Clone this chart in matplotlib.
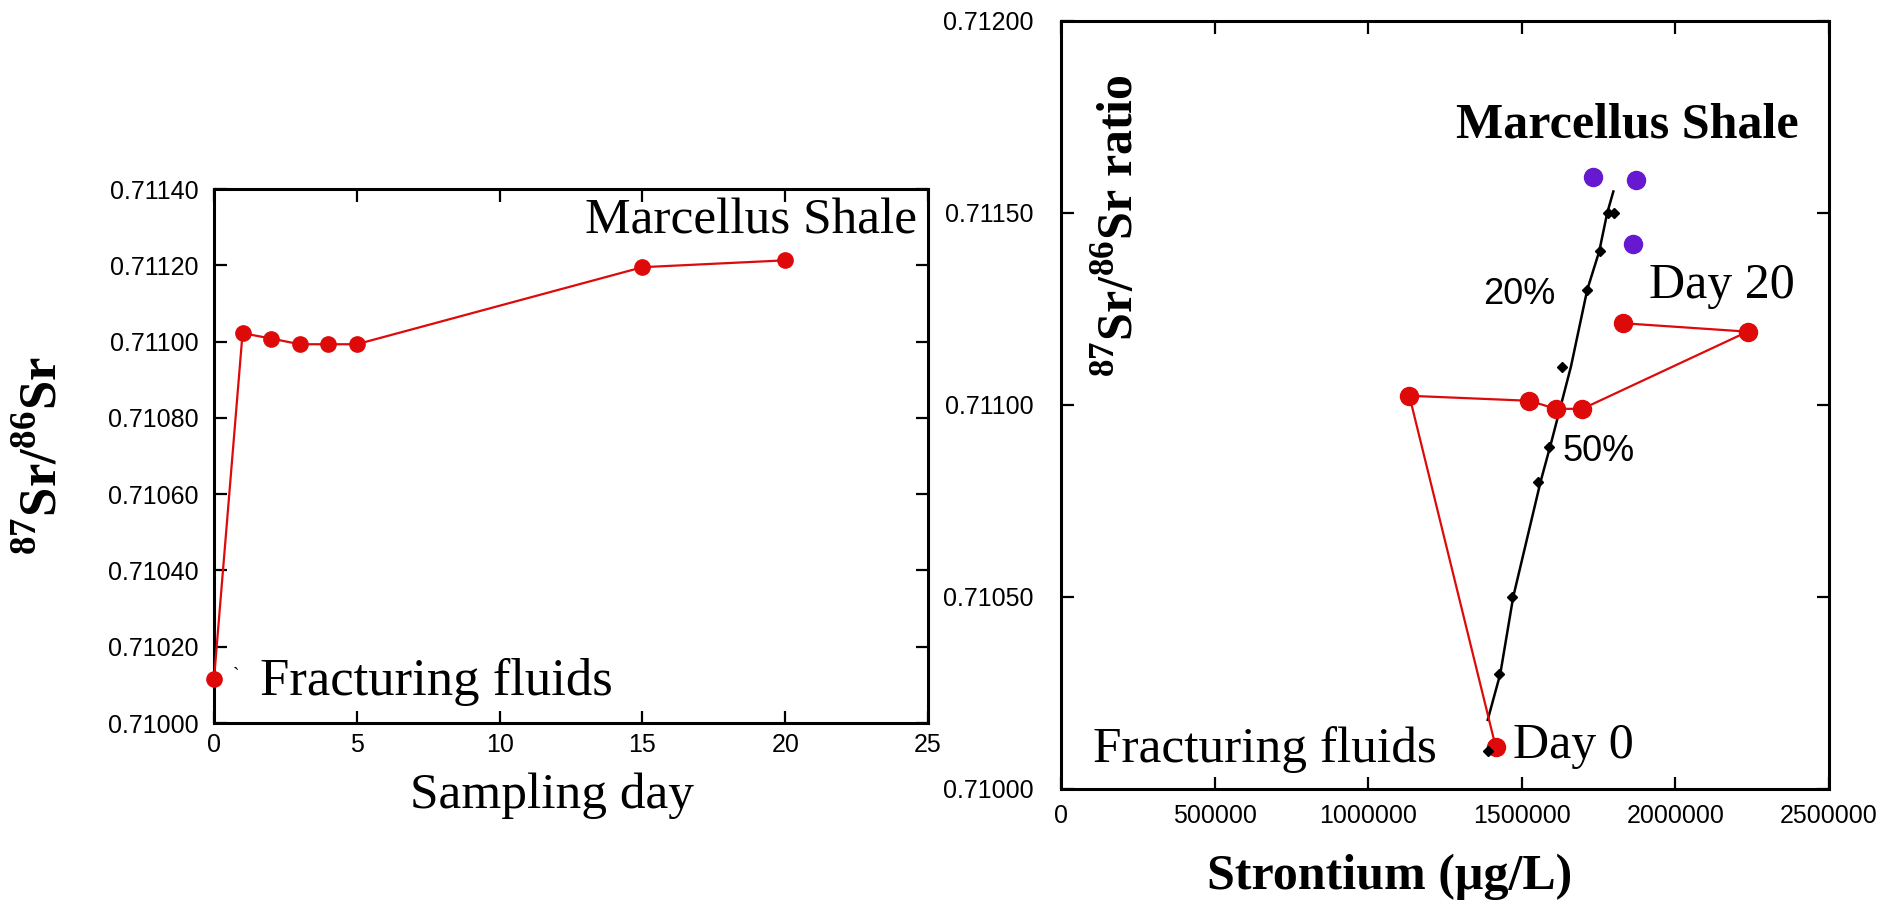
import matplotlib
matplotlib.use("Agg")
import matplotlib.pyplot as plt

plt.rcParams['font.family'] = ['Liberation Sans', 'DejaVu Sans']
plt.rcParams['mathtext.fontset'] = 'custom'
plt.rcParams['mathtext.rm'] = 'Liberation Serif'
plt.rcParams['mathtext.bf'] = 'Liberation Serif:bold'

# left panel: ratio against sampling day
days = [0, 1, 2, 3, 4, 5, 15, 20]
ratio_by_day = [0.710115, 0.711022, 0.711008, 0.710993, 0.710993, 0.710993, 0.711195, 0.711213]

# right panel: ratio against strontium concentration
sr_conc = [1415000, 1134000, 1524500, 1611000, 1697000, 2235000, 1828000]
ratio_by_conc = [0.71011, 0.711024, 0.711011, 0.71099, 0.71099, 0.711191, 0.711213]

shale_x = [1733000, 1872000, 1863000]
shale_y = [0.711593, 0.711586, 0.711419]

mix_x = [1389000, 1426000, 1467000, 1554000, 1590000, 1632000, 1711000, 1755000, 1782000, 1799000]
mix_y = [0.71010, 0.71030, 0.71050, 0.71080, 0.71089, 0.71110, 0.71130, 0.71140, 0.71150, 0.71150]

curve_x = [1389000, 1430000, 1472000, 1561000, 1595000, 1660000, 1713000, 1752000, 1778000, 1798000]
curve_y = [0.71018, 0.71030, 0.71050, 0.71080, 0.71090, 0.71110, 0.71130, 0.71140, 0.71150, 0.711556]

RED = '#DE0A0A'
PURPLE = '#6619D0'
W, H = 1896, 902


def px(x, y):
    return x / W, 1 - y / H


def style(ax, pad_x, pad_y):
    for s in ax.spines.values():
        s.set_linewidth(2.2)
    ax.tick_params(direction='in', top=True, right=True, length=9, width=1.6,
                   labelsize=18)
    ax.tick_params(axis='x', pad=pad_x)
    ax.tick_params(axis='y', pad=pad_y)


fig = plt.figure(figsize=(W / 100, H / 100), dpi=100)

ax1 = fig.add_axes([214 / W, 1 - 723 / H, 714 / W, 534 / H])
ax1.plot(days, ratio_by_day, '-o', color=RED, lw=1.6, ms=11, clip_on=False, zorder=3)
ax1.set_xlim(0, 25)
ax1.set_ylim(0.71000, 0.71140)
ax1.set_xticks([0, 5, 10, 15, 20, 25])
ax1.set_yticks([0.71000 + 0.0002 * i for i in range(8)])
ax1.yaxis.set_major_formatter(matplotlib.ticker.FormatStrFormatter('%.5f'))
style(ax1, 7, 11)

ax2 = fig.add_axes([1061 / W, 1 - 789 / H, 768 / W, 768 / H])
ax2.plot(curve_x, curve_y, '-', color='black', lw=1.8, zorder=2)
ax2.plot(sr_conc, ratio_by_conc, '-o', color=RED, lw=1.6, ms=13, zorder=3)
ax2.plot(mix_x, mix_y, 'D', color='black', ms=5.5, zorder=4)
ax2.plot(shale_x, shale_y, 'o', color=PURPLE, ms=13, zorder=3)
ax2.set_xlim(0, 2500000)
ax2.set_ylim(0.71000, 0.71200)
ax2.set_xticks([0, 500000, 1000000, 1500000, 2000000, 2500000])
ax2.set_yticks([0.71000, 0.71050, 0.71100, 0.71150, 0.71200])
ax2.xaxis.set_major_formatter(matplotlib.ticker.FormatStrFormatter('%d'))
ax2.yaxis.set_major_formatter(matplotlib.ticker.FormatStrFormatter('%.5f'))
style(ax2, 11, 20)

serif = 'Liberation Serif'
sup_label = r'$^{\mathbf{87}}\mathbf{Sr/}^{\mathbf{86}}\mathbf{Sr}$'

# left panel texts
fig.text(*px(917, 233), 'Marcellus Shale', family=serif, fontsize=37, ha='right', va='baseline')
fig.text(*px(260, 695), 'Fracturing fluids', family=serif, fontsize=38, ha='left', va='baseline')
fig.text(*px(236, 680), '`', family=serif, fontsize=14, ha='center', va='baseline')
fig.text(*px(552, 808), 'Sampling day', family=serif, fontsize=37, ha='center', va='baseline')
fig.text(*px(42, 456), sup_label, family=serif, fontsize=38, fontweight='bold',
         rotation=90, ha='center', va='center')

# right panel texts
fig.text(*px(1120, 226), sup_label + ' ratio', family=serif, fontsize=36, fontweight='bold',
         rotation=90, ha='center', va='center')
fig.text(*px(1627, 138), 'Marcellus Shale', family=serif, fontsize=36, fontweight='bold',
         ha='center', va='baseline')
fig.text(*px(1483, 304), '20%', fontsize=26, ha='left', va='baseline')
fig.text(*px(1563, 461), '50%', fontsize=26, ha='left', va='baseline')
fig.text(*px(1649, 298), 'Day 20', family=serif, fontsize=36, ha='left', va='baseline')
fig.text(*px(1513, 758), 'Day 0', family=serif, fontsize=36, ha='left', va='baseline')
fig.text(*px(1093, 762), 'Fracturing fluids', family=serif, fontsize=37, ha='left', va='baseline')
fig.text(*px(1390, 889), 'Strontium (μg/L)', family=serif, fontsize=36, fontweight='bold',
         ha='center', va='baseline')

fig.savefig('out.png', dpi=100)
